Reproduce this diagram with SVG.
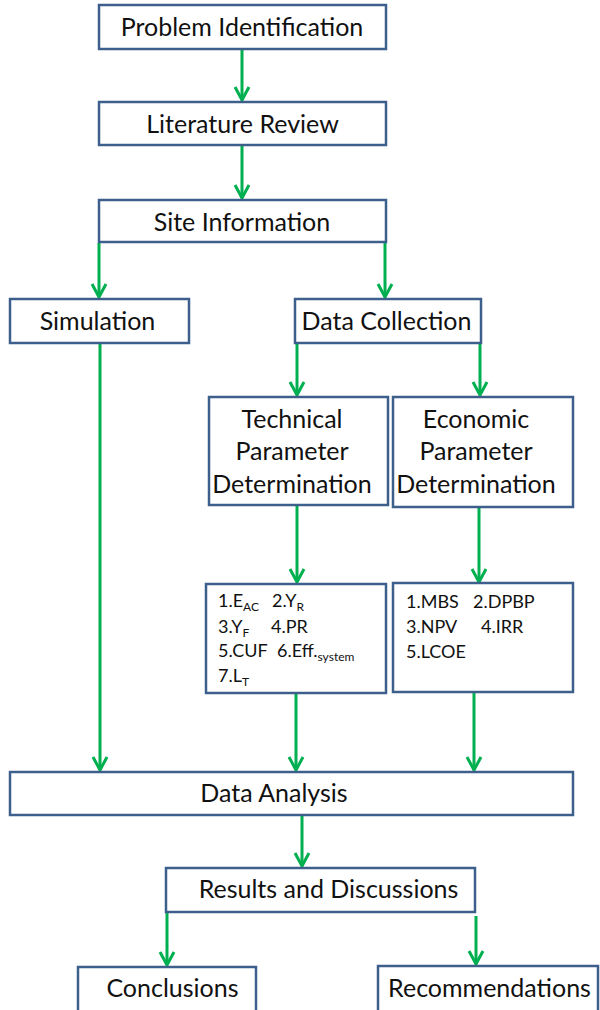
<svg xmlns="http://www.w3.org/2000/svg" width="600" height="1010" viewBox="0 0 600 1010">
  <defs>
    <style>
      .box { fill: #ffffff; stroke: #3d5f8c; stroke-width: 2.5; }
      .lbl { font-family: Lato, "Open Sans", "Liberation Sans", sans-serif; font-size: 25px; fill: #111111; text-anchor: middle; }
      .big { font-size: 25px; }
      .lst { font-family: Lato, "Open Sans", "Liberation Sans", sans-serif; font-size: 18px; fill: #111111; }
      .sub { font-size: 12px; }
      .conn line { stroke: #00b050; stroke-width: 3; marker-end: url(#head); }
    </style>
    <marker id="head" markerUnits="userSpaceOnUse" viewBox="-16 -10 20 20" refX="0" refY="0" markerWidth="20" markerHeight="20" orient="auto">
      <path d="M-13,-7 L0,0 L-13,7" fill="none" stroke="#00b050" stroke-width="3"/>
    </marker>
  </defs>

  <rect width="600" height="1010" fill="#ffffff"/>

  <!-- connectors -->
  <g id="connectors" class="conn">
    <line x1="242" y1="50" x2="242" y2="100"/>
    <line x1="242" y1="146" x2="242" y2="198"/>
    <line x1="99" y1="243" x2="99" y2="297"/>
    <line x1="385" y1="243" x2="385" y2="297"/>
    <line x1="297" y1="344" x2="297" y2="395"/>
    <line x1="480" y1="344" x2="480" y2="395"/>
    <line x1="100" y1="344" x2="100" y2="770"/>
    <line x1="297" y1="506" x2="297" y2="582"/>
    <line x1="479" y1="508" x2="479" y2="582"/>
    <line x1="296" y1="694" x2="296" y2="770"/>
    <line x1="474" y1="693" x2="474" y2="770"/>
    <line x1="302" y1="816" x2="302" y2="866"/>
    <line x1="167" y1="913" x2="167" y2="965"/>
    <line x1="476" y1="916" x2="476" y2="964"/>
  </g>

  <g id="problem-identification">
    <rect class="box" x="99" y="5" width="287" height="44"/>
    <text class="lbl" x="242" y="36">Problem Identification</text>
  </g>

  <g id="literature-review">
    <rect class="box" x="99" y="102" width="287" height="43"/>
    <text class="lbl" x="242.5" y="133">Literature Review</text>
  </g>

  <g id="site-information">
    <rect class="box" x="99" y="200" width="287" height="42"/>
    <text class="lbl" x="242" y="231">Site Information</text>
  </g>

  <g id="simulation">
    <rect class="box" x="10" y="299" width="179" height="44"/>
    <text class="lbl" x="97.5" y="330">Simulation</text>
  </g>

  <g id="data-collection">
    <rect class="box" x="295" y="299" width="186" height="44"/>
    <text class="lbl" x="386.5" y="330">Data Collection</text>
  </g>

  <g id="technical-parameter">
    <rect class="box" x="209" y="397" width="179" height="108"/>
    <text class="lbl big" x="292" y="428">Technical</text>
    <text class="lbl big" x="292" y="460">Parameter</text>
    <text class="lbl big" x="292" y="493">Determination</text>
  </g>

  <g id="economic-parameter">
    <rect class="box" x="393" y="397" width="180" height="110"/>
    <text class="lbl big" x="476" y="428">Economic</text>
    <text class="lbl big" x="476" y="460">Parameter</text>
    <text class="lbl big" x="476" y="493">Determination</text>
  </g>

  <g id="technical-list">
    <rect class="box" x="206" y="584" width="180" height="109"/>
    <text class="lst" x="218" y="607">1.E<tspan class="sub" dy="4">AC</tspan></text>
    <text class="lst" x="272" y="607">2.Y<tspan class="sub" dy="4">R</tspan></text>
    <text class="lst" x="218" y="633">3.Y<tspan class="sub" dy="4">F</tspan></text>
    <text class="lst" x="271" y="633">4.PR</text>
    <text class="lst" x="218" y="657">5.CUF</text>
    <text class="lst" x="277" y="657">6.Eff.<tspan class="sub" dy="4">system</tspan></text>
    <text class="lst" x="218" y="682">7.L<tspan class="sub" dy="4">T</tspan></text>
  </g>

  <g id="economic-list">
    <rect class="box" x="393" y="583" width="180" height="109"/>
    <text class="lst" x="406" y="608">1.MBS</text>
    <text class="lst" x="473" y="608">2.DPBP</text>
    <text class="lst" x="406" y="633">3.NPV</text>
    <text class="lst" x="481" y="633">4.IRR</text>
    <text class="lst" x="406" y="658">5.LCOE</text>
  </g>

  <g id="data-analysis">
    <rect class="box" x="10" y="772" width="563" height="43"/>
    <text class="lbl" x="274" y="802">Data Analysis</text>
  </g>

  <g id="results-discussions">
    <rect class="box" x="166" y="868" width="309" height="44"/>
    <text class="lbl" x="328.5" y="898">Results and Discussions</text>
  </g>

  <g id="conclusions">
    <rect class="box" x="78" y="967" width="178" height="50"/>
    <text class="lbl" x="172.5" y="997">Conclusions</text>
  </g>

  <g id="recommendations">
    <rect class="box" x="378" y="966" width="220" height="50"/>
    <text class="lbl" x="489.5" y="997">Recommendations</text>
  </g>
</svg>
